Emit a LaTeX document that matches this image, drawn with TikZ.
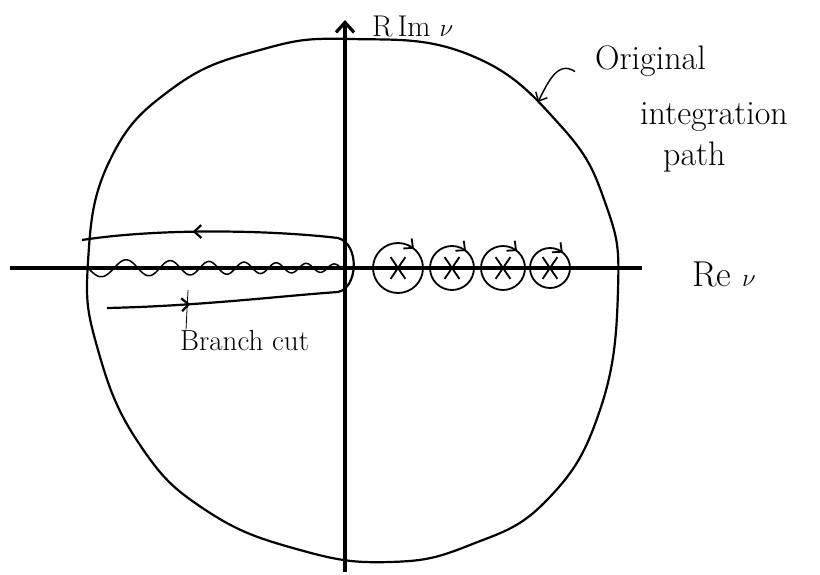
\documentclass[tikz,border=0pt]{standalone}
\usetikzlibrary{arrows.meta,decorations.markings,shapes.misc}

\begin{document}
\begin{tikzpicture}[
  x=1pt,y=-1pt,
  >={Straight Barb[length=7pt,width=13pt]},
  axis/.style={line width=3.2pt},
  rim/.style={line width=2.2pt},
  keyhole/.style={line width=2.2pt,postaction={decorate},
    decoration={markings,
      mark=at position 0.15 with {\arrow{>}},
      mark=at position 0.8 with {\arrow{>}}}},
  cut/.style={line width=1.5pt},
  poleloop/.style={line width=1.8pt,postaction={decorate},
    decoration={markings,mark=at position 0.86 with {\arrow{>}}}},
  xmark/.style={cross out,draw,line width=1.8pt,minimum width=13pt,
    minimum height=20pt,inner sep=0pt},
  pointer/.style={->,line width=1.4pt},
  hand/.style={inner sep=0pt,font=\fontsize{#1}{#1}\selectfont}
]
  \useasboundingbox (0,0) rectangle (820,575);

  % axes
  \coordinate (origin) at (345,268);
  \coordinate (reL) at (10,268);
  \coordinate (reR) at (642,268);
  \coordinate (imB) at (345,572);
  \coordinate (imT) at (345,20);
  \draw[axis] (reL) -- (reR);
  \draw[axis,-{Straight Barb[length=10pt,width=18pt]}] (imB) -- (imT);

  % original (big) integration path
  \draw[rim] plot[smooth cycle,tension=0.75] coordinates {
    (350,39) (470,55) (560,125) (606,205) (618,290) (600,410)
    (547,500) (470,545) (390,562) (300,550) (207,511) (140,445)
    (98,350) (88,262) (110,160) (173,88) (260,50)};

  % branch cut and the contour around it
  \draw[cut] plot[smooth,domain=0:252,samples=160]
    ({88+\x},{268+(9-0.02*\x)*sin(6.55*\x+0.01345*\x*\x)});
  \draw[keyhole] (107,308) .. controls (200,306) and (280,296) .. (338,292)
    .. controls (358,288) and (360,244) .. (338,238)
    .. controls (270,230) and (160,228) .. (82,240);

  % poles on the positive real axis
  \foreach \px/\pr/\pn in {398/25/p1,452/22/p2,503/22/p3,550/20/p4}{
    \coordinate (\pn) at (\px,268);
    \draw[poleloop] (\pn) circle (\pr);
    \node[xmark] at (\pn) {};
  }

  % labels
  \node[hand=30,anchor=base west] (imlbl) at (372,37) {R\,Im $\nu$};
  \node[hand=36,anchor=base west] (relbl) at (692,287) {Re $\nu$};
  \node[hand=34,anchor=base west] (orig) at (595,70) {Original};
  \node[hand=34,anchor=base west] (integ) at (640,125) {integration};
  \node[hand=34,anchor=base west] (pathlbl) at (663,166) {path};
  \node[hand=29,anchor=base west] (bcut) at (180,350) {Branch cut};

  \coordinate (onrim) at (538,102);
  \draw[pointer] ([xshift=-20pt,yshift=-10pt]orig.west) .. controls (558,60) and (548,82) .. (onrim);
  \coordinate (oncut) at (188,290);
  \draw[line width=0.8pt] ([xshift=6pt]bcut.north west) -- (oncut);
\end{tikzpicture}
\end{document}
